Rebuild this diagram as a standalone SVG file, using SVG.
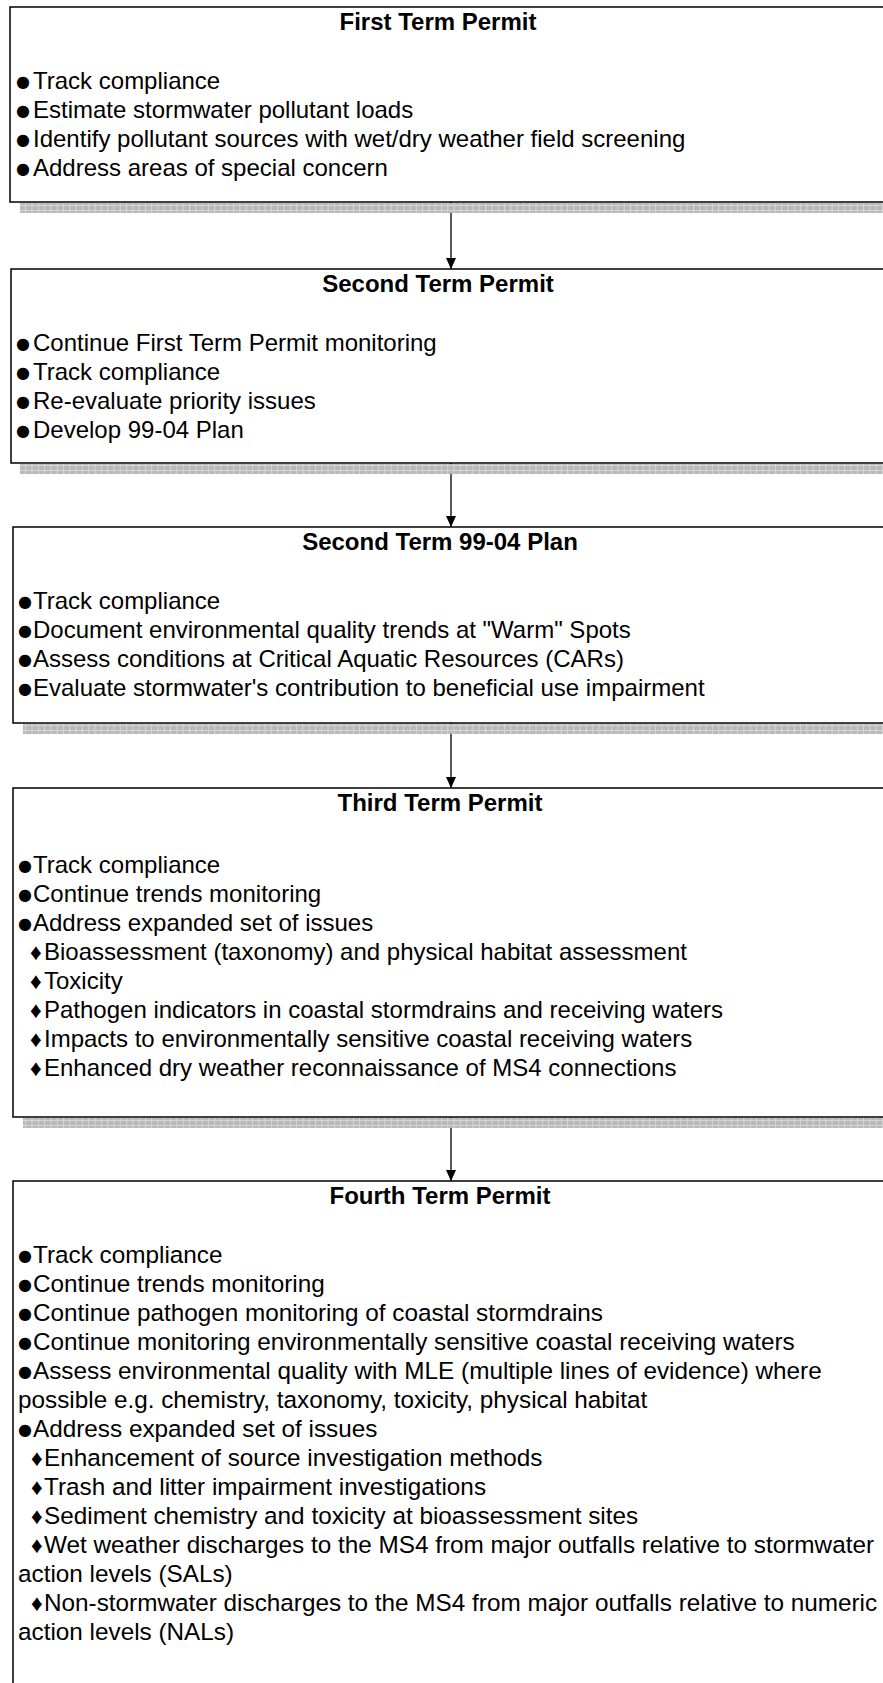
<svg xmlns="http://www.w3.org/2000/svg" width="883" height="1683" viewBox="0 0 883 1683">
<style>
.box{fill:#fff;stroke:#000;stroke-width:1.5}
.bar{fill:url(#grid)}
.t{font-family:"Liberation Sans",Arial,sans-serif;font-size:24px;fill:#000}
.t5{font-size:24.3px}
.h{font-family:"Liberation Sans",Arial,sans-serif;font-size:24px;font-weight:bold;fill:#000;text-anchor:middle}
.dot{font-family:"DejaVu Sans",sans-serif;font-size:16px}
.dia{font-family:"Liberation Sans","DejaVu Sans",sans-serif;font-size:23px}
.con{stroke:#000;stroke-width:1.3;fill:none;marker-end:url(#ah)}
</style>
<defs>
<pattern id="grid" width="6.3" height="5" patternUnits="userSpaceOnUse">
<rect width="6.3" height="5" fill="#b8b8b8"/>
<path d="M0.5,0 V5 M0,0.5 H6.3" stroke="#d6d6d6" stroke-width="1"/>
</pattern>
<marker id="ah" markerWidth="11" markerHeight="10" refX="11" refY="5" orient="auto" markerUnits="userSpaceOnUse">
<path d="M0,0 L11,5 L0,10 z" fill="#000"/>
</marker>
</defs>

<g id="connectors">
<line class="con" x1="451" y1="202" x2="451" y2="269"/>
<line class="con" x1="451" y1="463" x2="451" y2="527"/>
<line class="con" x1="451" y1="723" x2="451" y2="788"/>
<line class="con" x1="451" y1="1117" x2="451" y2="1181"/>
</g>

<g id="node1">
<rect class="bar" x="20" y="203" width="880" height="10"/>
<rect class="box" x="10" y="7" width="900" height="195"/>
<text class="h" x="438" y="30">First Term Permit</text>
<text class="t" x="16" y="89"><tspan class="dot" dy="-2">●</tspan><tspan x="33" dy="2">Track compliance</tspan></text>
<text class="t" x="16" y="118"><tspan class="dot" dy="-2">●</tspan><tspan x="33" dy="2">Estimate stormwater pollutant loads</tspan></text>
<text class="t" x="16" y="147"><tspan class="dot" dy="-2">●</tspan><tspan x="33" dy="2">Identify pollutant sources with wet/dry weather field screening</tspan></text>
<text class="t" x="16" y="176"><tspan class="dot" dy="-2">●</tspan><tspan x="33" dy="2">Address areas of special concern</tspan></text>
</g>

<g id="node2">
<rect class="bar" x="20" y="464" width="880" height="10"/>
<rect class="box" x="11" y="269" width="900" height="194"/>
<text class="h" x="438" y="292">Second Term Permit</text>
<text class="t" x="16" y="351"><tspan class="dot" dy="-2">●</tspan><tspan x="33" dy="2">Continue First Term Permit monitoring</tspan></text>
<text class="t" x="16" y="380"><tspan class="dot" dy="-2">●</tspan><tspan x="33" dy="2">Track compliance</tspan></text>
<text class="t" x="16" y="409"><tspan class="dot" dy="-2">●</tspan><tspan x="33" dy="2">Re-evaluate priority issues</tspan></text>
<text class="t" x="16" y="438"><tspan class="dot" dy="-2">●</tspan><tspan x="33" dy="2">Develop 99-04 Plan</tspan></text>
</g>

<g id="node3">
<rect class="bar" x="23" y="724" width="880" height="10"/>
<rect class="box" x="13" y="527" width="900" height="196"/>
<text class="h" x="440" y="550">Second Term 99-04 Plan</text>
<text class="t" x="18" y="609"><tspan class="dot" dy="-2">●</tspan><tspan x="33" dy="2">Track compliance</tspan></text>
<text class="t" x="18" y="638"><tspan class="dot" dy="-2">●</tspan><tspan x="33" dy="2">Document environmental quality trends at "Warm" Spots</tspan></text>
<text class="t" x="18" y="667"><tspan class="dot" dy="-2">●</tspan><tspan x="33" dy="2">Assess conditions at Critical Aquatic Resources (CARs)</tspan></text>
<text class="t" x="18" y="696"><tspan class="dot" dy="-2">●</tspan><tspan x="33" dy="2">Evaluate stormwater's contribution to beneficial use impairment</tspan></text>
</g>

<g id="node4">
<rect class="bar" x="23" y="1118" width="880" height="10"/>
<rect class="box" x="13" y="788" width="900" height="329"/>
<text class="h" x="440" y="811">Third Term Permit</text>
<text class="t" x="18" y="873"><tspan class="dot" dy="-2">●</tspan><tspan x="33" dy="2">Track compliance</tspan></text>
<text class="t" x="18" y="902"><tspan class="dot" dy="-2">●</tspan><tspan x="33" dy="2">Continue trends monitoring</tspan></text>
<text class="t" x="18" y="931"><tspan class="dot" dy="-2">●</tspan><tspan x="33" dy="2">Address expanded set of issues</tspan></text>
<text class="t" x="30" y="960"><tspan class="dia">♦</tspan><tspan x="44">Bioassessment (taxonomy) and physical habitat assessment</tspan></text>
<text class="t" x="30" y="989"><tspan class="dia">♦</tspan><tspan x="44">Toxicity</tspan></text>
<text class="t" x="30" y="1018"><tspan class="dia">♦</tspan><tspan x="44">Pathogen indicators in coastal stormdrains and receiving waters</tspan></text>
<text class="t" x="30" y="1047"><tspan class="dia">♦</tspan><tspan x="44">Impacts to environmentally sensitive coastal receiving waters</tspan></text>
<text class="t" x="30" y="1076"><tspan class="dia">♦</tspan><tspan x="44">Enhanced dry weather reconnaissance of MS4 connections</tspan></text>
</g>

<g id="node5">
<rect class="box" x="13" y="1181" width="900" height="520"/>
<text class="h" x="440" y="1204">Fourth Term Permit</text>
<text class="t t5" x="18" y="1263"><tspan class="dot" dy="-2">●</tspan><tspan x="33" dy="2">Track compliance</tspan></text>
<text class="t t5" x="18" y="1292"><tspan class="dot" dy="-2">●</tspan><tspan x="33" dy="2">Continue trends monitoring</tspan></text>
<text class="t t5" x="18" y="1321"><tspan class="dot" dy="-2">●</tspan><tspan x="33" dy="2">Continue pathogen monitoring of coastal stormdrains</tspan></text>
<text class="t t5" x="18" y="1350"><tspan class="dot" dy="-2">●</tspan><tspan x="33" dy="2">Continue monitoring environmentally sensitive coastal receiving waters</tspan></text>
<text class="t t5" x="18" y="1379"><tspan class="dot" dy="-2">●</tspan><tspan x="33" dy="2">Assess environmental quality with MLE (multiple lines of evidence) where</tspan></text>
<text class="t t5" x="18" y="1408">possible e.g. chemistry, taxonomy, toxicity, physical habitat</text>
<text class="t t5" x="18" y="1437"><tspan class="dot" dy="-2">●</tspan><tspan x="33" dy="2">Address expanded set of issues</tspan></text>
<text class="t t5" x="31" y="1466"><tspan class="dia">♦</tspan><tspan x="44">Enhancement of source investigation methods</tspan></text>
<text class="t t5" x="31" y="1495"><tspan class="dia">♦</tspan><tspan x="44">Trash and litter impairment investigations</tspan></text>
<text class="t t5" x="31" y="1524"><tspan class="dia">♦</tspan><tspan x="44">Sediment chemistry and toxicity at bioassessment sites</tspan></text>
<text class="t t5" x="31" y="1553"><tspan class="dia">♦</tspan><tspan x="44">Wet weather discharges to the MS4 from major outfalls relative to stormwater</tspan></text>
<text class="t t5" x="18" y="1582">action levels (SALs)</text>
<text class="t t5" x="31" y="1611"><tspan class="dia">♦</tspan><tspan x="44">Non-stormwater discharges to the MS4 from major outfalls relative to numeric</tspan></text>
<text class="t t5" x="18" y="1640">action levels (NALs)</text>
</g>
</svg>
